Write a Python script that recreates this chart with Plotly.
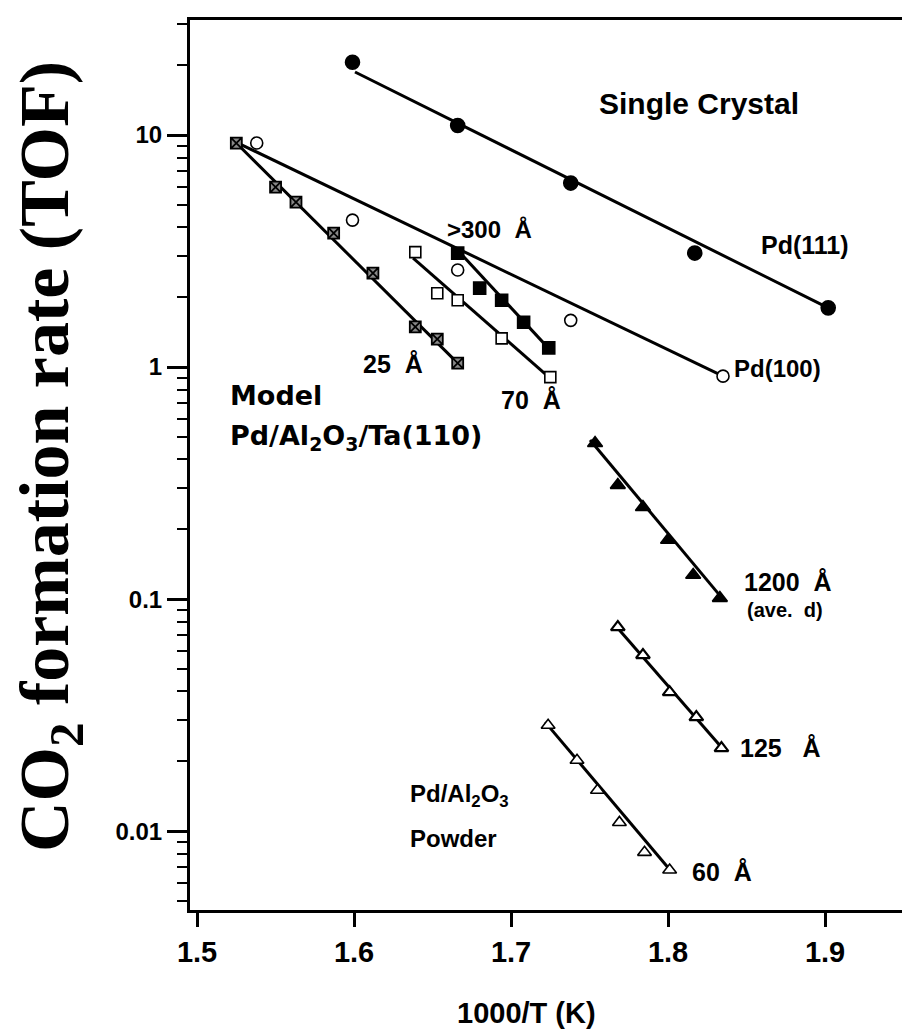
import plotly.graph_objects as go

# ---------------- data ----------------
pd111_x = [1.599, 1.666, 1.738, 1.817, 1.902]
pd111_y = [20.6, 11.0, 6.21, 3.10, 1.80]
pd111_fit_x = [1.6006, 1.902]
pd111_fit_y = [18.7, 1.80]

pd100_x = [1.538, 1.599, 1.666, 1.738, 1.835]
pd100_y = [9.24, 4.30, 2.62, 1.59, 0.914]
pd100_fit_x = [1.526, 1.835]
pd100_fit_y = [9.24, 0.914]

a25_x = [1.525, 1.550, 1.563, 1.587, 1.612, 1.639, 1.653, 1.666]
a25_y = [9.24, 5.97, 5.14, 3.78, 2.54, 1.49, 1.32, 1.04]
a25_fit_x = [1.525, 1.666]
a25_fit_y = [9.24, 1.04]

a300_x = [1.666, 1.680, 1.694, 1.708, 1.724]
a300_y = [3.10, 2.19, 1.94, 1.56, 1.21]
a300_fit_x = [1.666, 1.7236]
a300_fit_y = [3.19, 1.21]

a70_x = [1.639, 1.653, 1.666, 1.694, 1.725]
a70_y = [3.13, 2.08, 1.94, 1.33, 0.905]
a70_fit_x = [1.6376, 1.7248]
a70_fit_y = [2.95, 0.897]

a1200_x = [1.7535, 1.768, 1.784, 1.800, 1.816, 1.833]
a1200_y = [0.470, 0.310, 0.249, 0.180, 0.127, 0.101]
a1200_fit_x = [1.7503, 1.8344]
a1200_fit_y = [0.485, 0.101]

a125_x = [1.768, 1.784, 1.801, 1.818, 1.834]
a125_y = [0.0757, 0.0574, 0.0397, 0.0310, 0.0228]
a125_fit_x = [1.7662, 1.8344]
a125_fit_y = [0.0773, 0.0228]

a60_x = [1.7236, 1.742, 1.755, 1.769, 1.785, 1.801]
a60_y = [0.0286, 0.0202, 0.0150, 0.0109, 0.0081, 0.0068]
a60_fit_x = [1.7217, 1.8025]
a60_fit_y = [0.0295, 0.00665]

x_ticks = [1.5, 1.6, 1.7, 1.8, 1.9]
x_tick_labels = ["1.5", "1.6", "1.7", "1.8", "1.9"]
y_ticks = [0.01, 0.1, 1, 10]
y_tick_labels = ["0.01", "0.1", "1", "10"]
y_minor = [m * 10.0 ** e for e in range(-3, 2) for m in range(2, 10)]

# ---------------- figure ----------------
fig = go.Figure()

def fit(xs, ys):
    fig.add_trace(go.Scatter(x=xs, y=ys, mode="lines",
                             line=dict(color="black", width=3),
                             showlegend=False, hoverinfo="skip"))

def pts(xs, ys, symbol, size, fill="black", lw=1.6):
    fig.add_trace(go.Scatter(x=xs, y=ys, mode="markers",
                             marker=dict(symbol=symbol, size=size, color=fill,
                                         line=dict(color="black", width=lw)),
                             showlegend=False))

for fx, fy in [(pd111_fit_x, pd111_fit_y), (pd100_fit_x, pd100_fit_y),
               (a25_fit_x, a25_fit_y), (a300_fit_x, a300_fit_y),
               (a70_fit_x, a70_fit_y), (a1200_fit_x, a1200_fit_y),
               (a125_fit_x, a125_fit_y), (a60_fit_x, a60_fit_y)]:
    fit(fx, fy)

pts(pd111_x, pd111_y, "circle", 14)
pts(pd100_x, pd100_y, "circle", 12, fill="white")
pts(a25_x, a25_y, "square-x", 11, fill="#888888", lw=1.8)
pts(a300_x, a300_y, "square", 12)
pts(a70_x, a70_y, "square", 11, fill="white")
pts(a1200_x, a1200_y, "triangle-up", 13)
pts(a125_x, a125_y, "triangle-up", 12, fill="white", lw=2.2)
pts(a60_x, a60_y, "triangle-up", 12, fill="white", lw=1.6)

SANS = "Liberation Sans, Arial, Helvetica, sans-serif"
WIDE = "DejaVu Sans, Liberation Sans, sans-serif"
NB = "\u00a0"

def lab(text, x, ylog, size=24, anchor="center", family=SANS):
    fig.add_annotation(x=x, y=ylog, xref="x", yref="y", text="<b>" + text + "</b>",
                       showarrow=False, xanchor=anchor, yanchor="middle",
                       font=dict(family=family, size=size, color="black"))

lab("Single Crystal", 1.820, 1.134, 30)
lab("Pd(111)", 1.887, 0.526, 25)
lab(">300" + NB * 2 + "Å", 1.686, 0.595, 24)
lab("Pd(100)", 1.870, -0.004, 24)
lab("25" + NB * 2 + "Å", 1.625, 0.013, 25)
lab("70" + NB * 2 + "Å", 1.713, -0.142, 25)
lab("Model", 1.5197, -0.121, 27, "left", WIDE)
lab("Pd/Al<sub>2</sub>O<sub>3</sub>/Ta(110)", 1.5197, -0.302, 27, "left", WIDE)
lab("1200" + NB * 2 + "Å", 1.847, -0.925, 25, "left")
lab("(ave." + NB * 2 + "d)", 1.849, -1.045, 20, "left")
lab("125" + NB * 3 + "Å", 1.8446, -1.642, 25, "left")
lab("Pd/Al<sub>2</sub>O<sub>3</sub>", 1.6344, -1.845, 24, "left")
lab("Powder", 1.6344, -2.030, 24, "left")
lab("60" + NB * 2 + "Å", 1.814, -2.177, 25, "left")

# axis titles
fig.add_annotation(xref="paper", yref="paper", x=0.473, y=-0.1157,
                   text="<b>1000/T (K)</b>", showarrow=False,
                   xanchor="center", yanchor="middle",
                   font=dict(family=SANS, size=29, color="black"))
fig.add_annotation(xref="paper", yref="paper", x=-0.1966, y=0.509,
                   text="<b>CO<sub>2</sub> formation rate (TOF)</b>", showarrow=False,
                   textangle=-90, xanchor="center", yanchor="middle",
                   font=dict(family="Liberation Serif, Times New Roman, serif",
                             size=70, color="black"))

fig.update_layout(
    width=902, height=1031,
    margin=dict(l=190, r=0, t=20, b=121),
    paper_bgcolor="white", plot_bgcolor="white",
    showlegend=False,
    xaxis=dict(range=[1.4955, 1.949], tickvals=x_ticks,
               ticktext=["<b>" + t + "</b>" for t in x_tick_labels],
               ticks="outside", ticklen=14, tickwidth=2.5, tickcolor="black",
               showline=True, linecolor="black", linewidth=3, mirror=True,
               showgrid=False, zeroline=False,
               tickfont=dict(family=SANS, size=29, color="black")),
    yaxis=dict(type="log", range=[-2.34, 1.496], tickvals=y_ticks,
               ticktext=["<b>" + t + "</b>" for t in y_tick_labels],
               ticks="outside", ticklen=20, tickwidth=2.5, tickcolor="black",
               showline=True, linecolor="black", linewidth=3, mirror=False,
               showgrid=False, zeroline=False,
               minor=dict(tickvals=y_minor, ticks="outside", ticklen=10,
                          tickwidth=2, tickcolor="black", showgrid=False),
               tickfont=dict(family=SANS, size=24, color="black")),
)

fig.write_html("out.html")
